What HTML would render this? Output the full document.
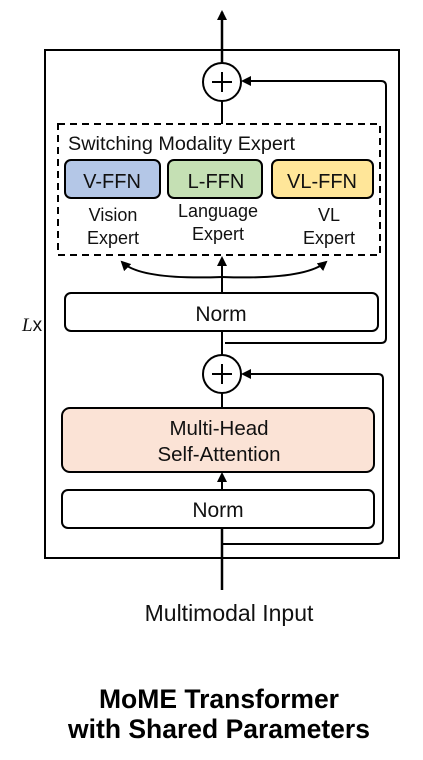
<!DOCTYPE html>
<html><head><style>body{margin:0;background:#fff}svg{display:block}</style></head>
<body>
<svg width="423" height="760" viewBox="0 0 423 760" xmlns="http://www.w3.org/2000/svg" font-family="Liberation Sans, Arial, sans-serif">
<defs><marker id="a" markerWidth="10" markerHeight="10" refX="8" refY="5" orient="auto" markerUnits="userSpaceOnUse"><path d="M0,0 L10,5 L0,10 z" fill="#000"/></marker></defs>
<rect x="45" y="50" width="354" height="508" fill="none" stroke="#000" stroke-width="2"/>
<line x1="222" y1="63" x2="222" y2="12" stroke="#000" stroke-width="2.5" marker-end="url(#a)"/>
<circle cx="222" cy="82" r="19" fill="#fff" stroke="#000" stroke-width="2"/>
<path d="M212,82 H232 M222,72 V92" stroke="#000" stroke-width="2"/>
<line x1="222" y1="101" x2="222" y2="124" stroke="#000" stroke-width="2"/>
<path d="M225,343 H381 Q386,343 386,338 V86 Q386,81 381,81 H243" fill="none" stroke="#000" stroke-width="2" marker-end="url(#a)"/>
<rect x="58" y="124" width="322" height="131" fill="none" stroke="#000" stroke-width="2" stroke-dasharray="7,5"/>
<text x="68" y="150" font-size="19.5" fill="#111" textLength="227" lengthAdjust="spacingAndGlyphs">Switching Modality Expert</text>
<rect x="65" y="160" width="95" height="38" rx="6" fill="#b4c7e7" stroke="#000" stroke-width="2"/>
<rect x="168" y="160" width="94" height="38" rx="6" fill="#c5e0b4" stroke="#000" stroke-width="2"/>
<rect x="272" y="160" width="101" height="38" rx="6" fill="#ffe699" stroke="#000" stroke-width="2"/>
<g font-size="20" text-anchor="middle" fill="#111">
<text x="112" y="188">V-FFN</text><text x="216" y="188">L-FFN</text><text x="322" y="188">VL-FFN</text>
</g>
<g font-size="18" text-anchor="middle" fill="#111">
<text x="113" y="221">Vision</text><text x="113" y="244">Expert</text>
<text x="218" y="217">Language</text><text x="218" y="240">Expert</text>
<text x="329" y="221">VL</text><text x="329" y="244">Expert</text>
</g>
<line x1="222" y1="293" x2="222" y2="258" stroke="#000" stroke-width="2" marker-end="url(#a)"/>
<path d="M222,277 Q140,280 122,262" fill="none" stroke="#000" stroke-width="2" marker-end="url(#a)"/>
<path d="M222,277 Q305,280 326,262" fill="none" stroke="#000" stroke-width="2" marker-end="url(#a)"/>
<rect x="65" y="293" width="313" height="38" rx="6" fill="#fff" stroke="#000" stroke-width="2"/>
<text x="221" y="321" font-size="21" text-anchor="middle" fill="#111">Norm</text>
<line x1="222" y1="331" x2="222" y2="355" stroke="#000" stroke-width="2"/>
<circle cx="222" cy="374" r="19" fill="#fff" stroke="#000" stroke-width="2"/>
<path d="M212,374 H232 M222,364 V384" stroke="#000" stroke-width="2"/>
<line x1="222" y1="393" x2="222" y2="408" stroke="#000" stroke-width="2"/>
<path d="M222,544 H378 Q383,544 383,539 V379 Q383,374 378,374 H243" fill="none" stroke="#000" stroke-width="2" marker-end="url(#a)"/>
<rect x="62" y="408" width="312" height="64" rx="8" fill="#fbe3d6" stroke="#000" stroke-width="2"/>
<text x="219" y="435" font-size="20.5" text-anchor="middle" fill="#111">Multi-Head</text>
<text x="219" y="461" font-size="20.5" text-anchor="middle" fill="#111">Self-Attention</text>
<line x1="222" y1="490" x2="222" y2="474" stroke="#000" stroke-width="2" marker-end="url(#a)"/>
<rect x="62" y="490" width="312" height="38" rx="6" fill="#fff" stroke="#000" stroke-width="2"/>
<text x="218" y="517" font-size="21" text-anchor="middle" fill="#111">Norm</text>
<line x1="222" y1="590" x2="222" y2="528" stroke="#000" stroke-width="2.5"/>
<text x="229" y="621" font-size="23" text-anchor="middle" fill="#111">Multimodal Input</text>
<text x="22" y="331" font-size="19" fill="#111"><tspan font-family="Liberation Serif, serif" font-style="italic">L</tspan>x</text>
<text x="219" y="708" font-size="26.5" font-weight="bold" text-anchor="middle" fill="#000">MoME Transformer</text>
<text x="219" y="738" font-size="26.5" font-weight="bold" text-anchor="middle" fill="#000">with Shared Parameters</text>
</svg>
</body></html>
